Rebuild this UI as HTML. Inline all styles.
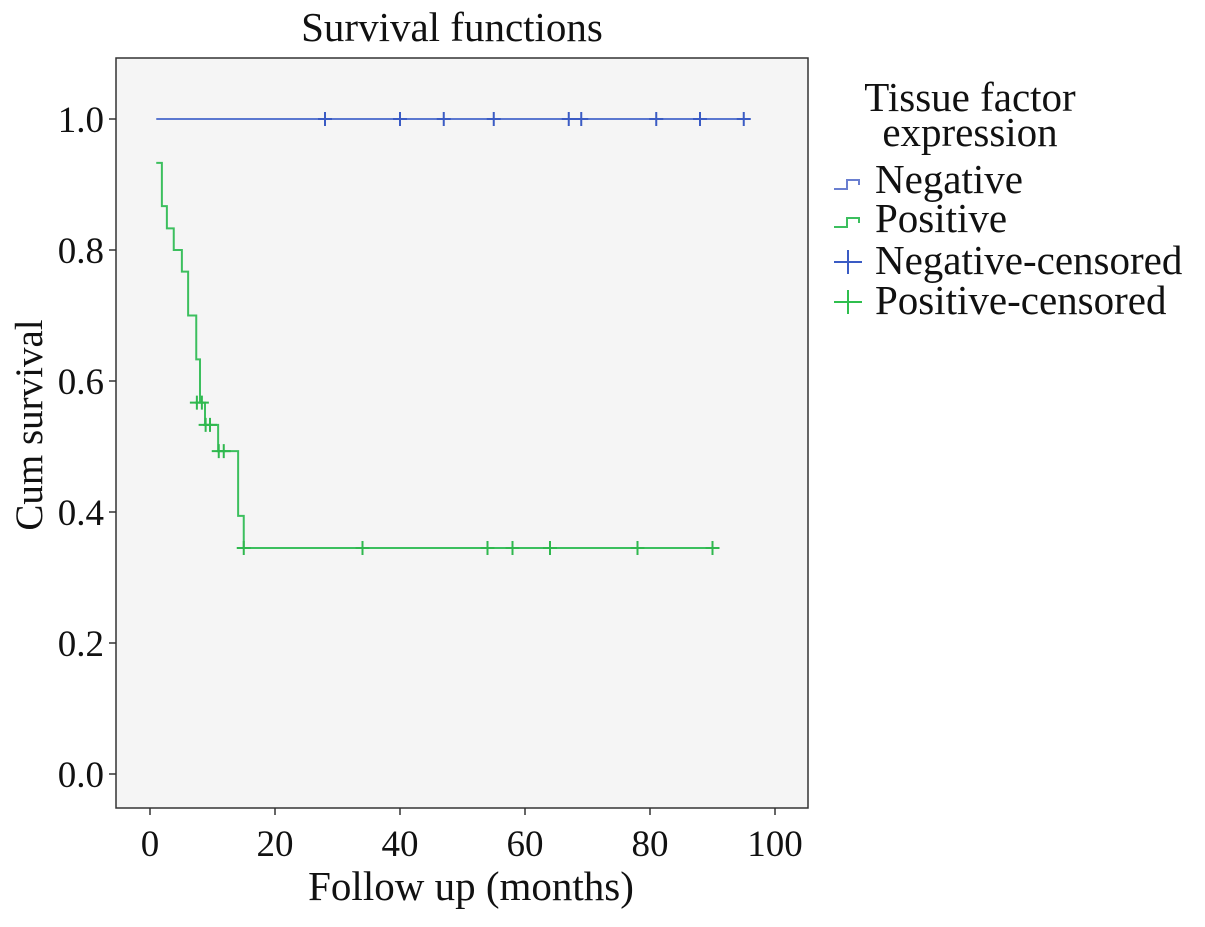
<!DOCTYPE html>
<html><head><meta charset="utf-8"><style>
body{margin:0;background:#fff;}
svg text{font-family:"Liberation Serif",serif;fill:#111;}
</style></head><body>
<svg id="c" width="1205" height="922">
<text x="452" y="41" font-size="41" text-anchor="middle">Survival functions</text>
<rect x="116" y="58" width="692" height="750" fill="#f5f5f5" stroke="#333" stroke-width="1.5"/>
<g id="axes"></g>
<g id="series"></g>
<text transform="translate(42,425) rotate(-90)" font-size="39" text-anchor="middle">Cum survival</text>
<text x="471" y="900" font-size="41" text-anchor="middle">Follow up (months)</text>
<g>
<text x="970" y="111" font-size="41" text-anchor="middle">Tissue factor</text>
<text x="970" y="146" font-size="41" text-anchor="middle">expression</text>
<path d="M834 189h13v-9h12v5" fill="none" stroke="#6a7fd0" stroke-width="2"/>
<text x="875" y="193" font-size="41">Negative</text>
<path d="M834 227h13v-9h12v5" fill="none" stroke="#3cbf5e" stroke-width="2"/>
<text x="875" y="232" font-size="41">Positive</text>
<path d="M834 262h28M848 250v24" stroke="#3a5bc4" stroke-width="2"/>
<text x="875" y="274" font-size="41">Negative-censored</text>
<path d="M834 302h28M848 290v24" stroke="#2fbf4e" stroke-width="2"/>
<text x="875" y="314" font-size="41">Positive-censored</text>
</g>
</svg>
<script>
const xTicks=[0,20,40,60,80,100];
const yTicks=[0.0,0.2,0.4,0.6,0.8,1.0];
const negTimes=[1,95];
const negSurv=[1.0,1.0];
const negCensor=[28,40,47,55,67,69,81,88,95];
const posTimes=[1,1.9,2.7,3.8,5.1,6.1,7.4,8,8.8,10.9,14.1,15,90];
const posSurv=[0.933,0.867,0.833,0.8,0.767,0.7,0.633,0.567,0.533,0.493,0.394,0.345,0.345];
const posCensorT=[7.5,8.3,8.9,9.6,11,11.8,15,34,54,58,64,78,90];
const posCensorS=[0.567,0.567,0.533,0.533,0.493,0.493,0.345,0.345,0.345,0.345,0.345,0.345,0.345];
const X=m=>150+m*6.25, Y=s=>774-s*655;
const NS="http://www.w3.org/2000/svg";
const ax=document.getElementById('axes'), se=document.getElementById('series');
function mk(tag,attrs,parent){const e=document.createElementNS(NS,tag);for(const k in attrs)e.setAttribute(k,attrs[k]);parent.appendChild(e);return e;}
xTicks.forEach(t=>{
  const l=mk('line',{x1:X(t),x2:X(t),y1:808,y2:815,stroke:'#333','stroke-width':1.5},ax);
  
  
  const tx=mk('text',{x:X(t),y:856,'font-size':37,'text-anchor':'middle'},ax);tx.textContent=t;
  
  
});
yTicks.forEach(t=>{
  const l=mk('line',{x1:109,x2:116,y1:Y(t),y2:Y(t),stroke:'#333','stroke-width':1.5},ax);
  
  
  const tx=mk('text',{x:104,y:Y(t)+13,'font-size':37,'text-anchor':'end'},ax);tx.textContent=t.toFixed(1);
  
  
});
function stepPath(ts,ss){let d='M'+X(ts[0])+' '+Y(ss[0]);for(let i=1;i<ts.length;i++){d+='H'+X(ts[i])+'V'+Y(ss[i]);}return d;}
const pn=mk('path',{d:stepPath(negTimes,negSurv),fill:'none',stroke:'#5b78d0','stroke-width':2},se);


const pp=mk('path',{d:stepPath(posTimes,posSurv),fill:'none',stroke:'#3cbf5e','stroke-width':2},se);


function cross(t,s,col){const x=X(t),y=Y(s);return mk('path',{d:`M${x-7} ${y}h14M${x} ${y-7}v14`,stroke:col,'stroke-width':2},se);}
negCensor.forEach(t=>{const c=cross(t,1.0,'#3a5bc4');
  
  });
posCensorT.forEach((t,i)=>{const c=cross(t,posCensorS[i],'#2fb84e');
  
  });
</script>
</body></html>
